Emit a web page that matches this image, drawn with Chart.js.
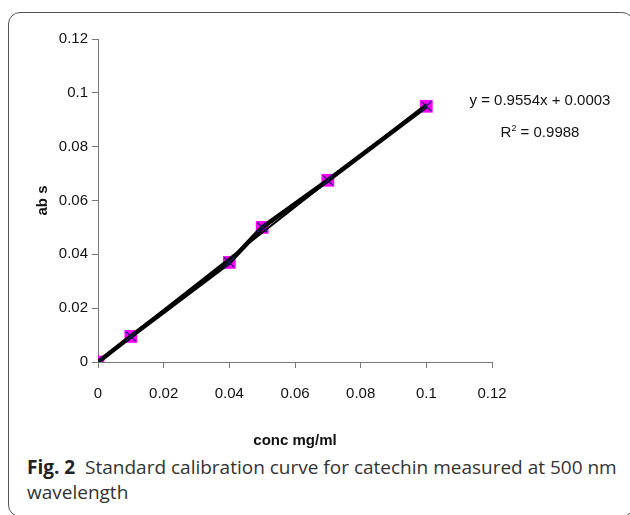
<!DOCTYPE html>
<html>
<head>
<meta charset="utf-8">
<script src="https://cdn.jsdelivr.net/npm/chart.js@4"></script>
<style>
  body { margin: 0; background: #fff; width: 630px; height: 515px; overflow: hidden; position: relative; }
  #frame { position: absolute; left: 8px; top: 12px; width: 626px; height: 505px; border: 1px solid #555; border-radius: 12px; box-sizing: border-box; }
  #wrap { position: absolute; left: 0; top: 0; width: 630px; height: 450px; }
  #eq { position: absolute; left: 440px; top: 86px; width: 200px; text-align: center; font: 15px "Liberation Sans", Arial, sans-serif; color: #111; line-height: 28px; }
  #caption { position: absolute; left: 27px; top: 455px; width: 600px; font: 19px "Open Sans", sans-serif; color: #333; line-height: 25px; }
  #caption b { color: #222; }
</style>
</head>
<body>
<div id="frame"></div>
<div id="wrap"><canvas id="myChart"></canvas></div>
<div id="eq">y = 0.9554x + 0.0003<br>R<sup style="font-size:9px">2</sup> = 0.9988</div>
<div id="caption"><b>Fig. 2</b>&nbsp; Standard calibration curve for catechin measured at 500 nm wavelength</div>
<script>
// measured points
const concX = [0, 0.01, 0.04, 0.05, 0.07, 0.1];
const absY = [0, 0.0095, 0.037, 0.050, 0.0675, 0.095];
// linear fit line ends (y = 0.9554x + 0.0003)
const fitX = [0, 0.1];
const fitY = [0.0003, 0.0958];
const tickVals = [0, 0.02, 0.04, 0.06, 0.08, 0.1, 0.12];

const pts = concX.map((x, i) => ({ x: x, y: absY[i] }));
const fitPts = fitX.map((x, i) => ({ x: x, y: fitY[i] }));

const tickFont = { family: '"Liberation Sans", Arial', size: 15 };
const titleFont = { family: '"Liberation Sans", Arial', size: 15, weight: 'bold' };

const ctx = document.getElementById('myChart');
var myChart = new Chart(ctx, {
  type: 'scatter',
  data: {
    datasets: [
      { data: pts, pointStyle: 'crossRot', pointRadius: 7, borderColor: '#1a1a6e', borderWidth: 1.2, showLine: false, order: 1 },
      { data: fitPts, showLine: true, borderColor: '#000', borderWidth: 2, pointRadius: 0, order: 2 },
      { data: pts, showLine: true, borderColor: '#000', borderWidth: 4.5, pointRadius: 0, order: 3 },
      { data: pts, pointStyle: 'rect', pointRadius: 9, backgroundColor: '#ff00ff', borderColor: '#ff00ff', borderWidth: 0, showLine: false, order: 4 }
    ]
  },
  options: {
    responsive: true,
    maintainAspectRatio: false,
    animation: false,
    layout: { padding: { top: 39, right: 138, left: 0, bottom: 0 } },
    plugins: { legend: { display: false }, tooltip: { enabled: false } },
    scales: {
      x: {
        type: 'linear', min: 0, max: 0.12,
        afterBuildTicks: (s) => { s.ticks = tickVals.map(v => ({ value: v })); },
        grid: { display: true, drawOnChartArea: false, drawTicks: true, tickLength: 6, color: '#777' },
        border: { color: '#777', width: 1 },
        ticks: { color: '#111', font: tickFont, padding: 17, maxRotation: 0, callback: (v) => String(+v.toFixed(2)) },
        title: { display: true, text: 'conc mg/ml', color: '#111', font: titleFont, padding: { top: 8, bottom: 0 } },
        afterFit: (s) => { s.height = 88; }
      },
      y: {
        type: 'linear', min: 0, max: 0.12,
        afterBuildTicks: (s) => { s.ticks = tickVals.map(v => ({ value: v })); },
        grid: { display: true, drawOnChartArea: false, drawTicks: true, tickLength: 6, color: '#777' },
        border: { color: '#777', width: 1 },
        ticks: { color: '#111', font: tickFont, padding: 4, callback: (v) => String(+v.toFixed(2)) },
        title: { display: true, text: 'ab s', color: '#111', font: titleFont, padding: { top: 34, bottom: 0 } },
        afterFit: (s) => { s.width = 98; }
      }
    }
  }
});
</script>
</body>
</html>
